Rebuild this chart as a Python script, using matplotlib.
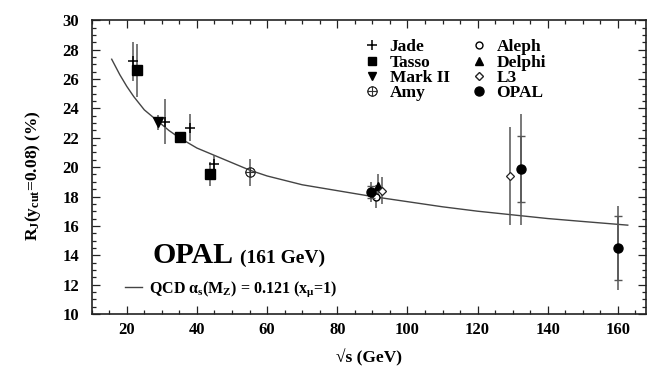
import matplotlib
matplotlib.use("Agg")
import matplotlib.pyplot as plt
from matplotlib.lines import Line2D
from matplotlib.ticker import MultipleLocator

plt.rcParams['font.family'] = ['Liberation Serif', 'DejaVu Serif']
plt.rcParams['font.weight'] = 'bold'
plt.rcParams['mathtext.fontset'] = 'custom'
plt.rcParams['mathtext.rm'] = 'Liberation Serif:bold'
plt.rcParams['mathtext.it'] = 'Liberation Serif:bold'
plt.rcParams['mathtext.bf'] = 'Liberation Serif:bold'

# ---- data ----
jade_x = [21.8, 30.9, 37.9, 44.8]
jade_y = [27.2, 23.1, 22.7, 20.2]
jade_e = [1.3, 1.55, 0.95, 0.6]

tasso_x = [22.9, 35.2, 43.6]
tasso_y = [26.6, 22.05, 19.55]
tasso_e = [1.8, 0.35, 0.8]

mark2_x = [29.0]
mark2_y = [23.05]
mark2_e = [0.5]

amy_x = [55.0]
amy_y = [19.65]
amy_e = [0.9]

aleph_x = [91.0]
aleph_y = [18.0]
aleph_e = [0.8]

delphi_x = [91.6]
delphi_y = [18.7]
delphi_e = [0.8]

l3_x = [92.8, 129.2]
l3_y = [18.4, 19.4]
l3_e = [0.9, 3.35]

opal_x = [89.5, 132.3, 160.0]
opal_y = [18.3, 19.85, 14.5]
opal_stat = [0.4, 2.25, 2.2]
opal_tot = [0.7, 3.8, 2.85]

qcd_x = [15.7, 18, 20, 22, 25, 29, 32, 35, 40, 45, 50, 55, 60, 65, 70, 80,
         90, 100, 110, 120, 130, 140, 150, 162.8]
qcd_y = [27.35, 26.3, 25.5, 24.8, 23.9, 23.1, 22.5, 22.0, 21.3, 20.8, 20.3,
         19.8, 19.4, 19.1, 18.8, 18.4, 18.0, 17.65, 17.3, 17.0, 16.75, 16.5,
         16.3, 16.05]

xlim = (10, 168)
ylim = (10, 30)
x_major = [20, 40, 60, 80, 100, 120, 140, 160]
y_major = [10, 12, 14, 16, 18, 20, 22, 24, 26, 28, 30]

W, H = 648, 366
fig = plt.figure(figsize=(W / 100, H / 100), dpi=100)
ax = fig.add_axes([91.7 / W, 1 - 314 / H, (646 - 91.7) / W, (314 - 20.3) / H])

ecol = '#555555'
ax.plot(qcd_x, qcd_y, color='#444444', lw=1.0, zorder=2)

ebkw = dict(ecolor=ecol, elinewidth=1.1, capsize=0, linestyle='none', zorder=3)
ax.errorbar(jade_x, jade_y, yerr=jade_e, marker='+', ms=7, mew=1.1, color='black', **ebkw)
ax.errorbar(tasso_x, tasso_y, yerr=tasso_e, marker='s', ms=6.5, color='black', **ebkw)
ax.errorbar(mark2_x, mark2_y, yerr=mark2_e, marker='v', ms=6.5, color='black', **ebkw)
ax.errorbar(amy_x, amy_y, yerr=amy_e, marker=r'$\oplus$', ms=7, mew=0.5, color='#333333', **ebkw)
ax.errorbar(aleph_x, aleph_y, yerr=aleph_e, marker='o', ms=5, mfc='white', mec='black', mew=1.0, **ebkw)
ax.errorbar(delphi_x, delphi_y, yerr=delphi_e, marker='^', ms=5.5, color='black', **ebkw)
ax.errorbar(l3_x, l3_y, yerr=l3_e, marker='D', ms=3.8, mfc='white', mec='#222222', mew=0.9, **ebkw)
ax.errorbar(opal_x, opal_y, yerr=opal_tot, marker='none', **ebkw)
ax.errorbar(opal_x, opal_y, yerr=opal_stat, marker='o', ms=6.5, color='black',
            ecolor=ecol, elinewidth=1.1, capsize=3, capthick=1.0, linestyle='none', zorder=4)

ax.set_xlim(*xlim)
ax.set_ylim(*ylim)
ax.set_xticks(x_major)
ax.set_yticks(y_major)
ax.xaxis.set_minor_locator(MultipleLocator(5))
ax.yaxis.set_minor_locator(MultipleLocator(0.5))
ax.tick_params(which='both', direction='in', top=True, right=True, width=0.9, color='#222222')
ax.tick_params(axis='x', which='major', length=6, labelsize=12, pad=6)
ax.tick_params(axis='y', which='major', length=6, labelsize=12, pad=9)
ax.tick_params(which='minor', length=3)
for lab in ax.get_xticklabels() + ax.get_yticklabels():
    lab.set_fontweight('bold')
for s in ax.spines.values():
    s.set_linewidth(1.2)
    s.set_color('#222222')

ax.set_xlabel('√s (GeV)', fontsize=12.5, fontweight='bold', labelpad=8)
ax.set_ylabel(r'R$_\mathrm{J}$(y$_\mathrm{cut}$=0.08) (%)', fontsize=12.5, fontweight='bold')
ax.yaxis.set_label_coords(-0.088, 0.47)

# experiments legend
h = [
    Line2D([], [], marker='+', ms=7, mew=1.1, color='black', ls='none'),
    Line2D([], [], marker='s', ms=6, color='black', ls='none'),
    Line2D([], [], marker='v', ms=6, color='black', ls='none'),
    Line2D([], [], marker=r'$\oplus$', ms=7, mew=0.5, color='#333333', ls='none'),
    Line2D([], [], marker='o', ms=5, mfc='white', mec='black', ls='none'),
    Line2D([], [], marker='^', ms=6, color='black', ls='none'),
    Line2D([], [], marker='D', ms=3.8, mfc='white', mec='#222222', ls='none'),
    Line2D([], [], marker='o', ms=6.5, color='black', ls='none'),
]
labels = ['Jade', 'Tasso', 'Mark II', 'Amy', 'Aleph', 'Delphi', 'L3', 'OPAL']
leg = ax.legend(h, labels, ncol=2, loc='upper left', bbox_to_anchor=(0.478, 0.966),
                frameon=False, handlelength=0.8, handletextpad=0.6,
                columnspacing=1.3, labelspacing=-0.04, borderpad=0.0,
                prop={'weight': 'bold', 'size': 12.5})
ax.add_artist(leg)

# QCD curve legend
leg2 = ax.legend([Line2D([], [], color='#444444', lw=1.0)],
                 [r'QCD α$_\mathrm{s}$(M$_\mathrm{Z}$) = 0.121 (x$_\mu$=1)'],
                 loc='lower left', bbox_to_anchor=(0.045, 0.025), frameon=False,
                 handlelength=1.1, handletextpad=0.4, borderpad=0.0,
                 prop={'weight': 'bold', 'size': 11.5})

ax.text(0.11, 0.175, 'OPAL', transform=ax.transAxes, fontsize=21.5, fontweight='bold',
        ha='left', va='baseline')
ax.text(0.268, 0.175, '(161 GeV)', transform=ax.transAxes, fontsize=14, fontweight='bold',
        ha='left', va='baseline')

fig.savefig('out.png', dpi=100)
